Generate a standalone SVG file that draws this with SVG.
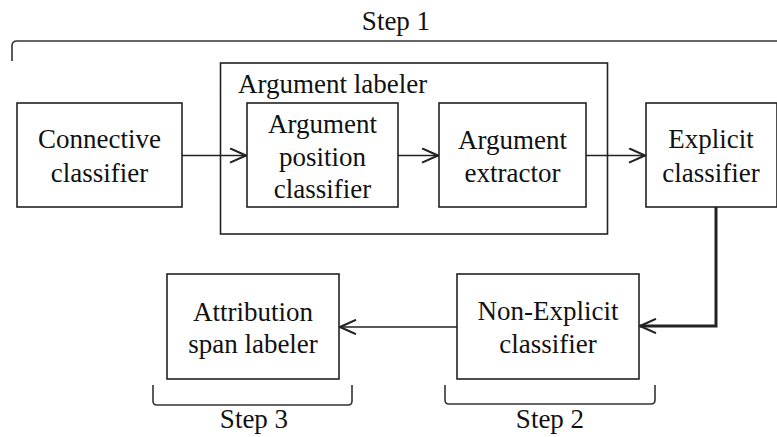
<svg xmlns="http://www.w3.org/2000/svg" width="777" height="437" viewBox="0 0 777 437">
<style>
  .box{fill:#fff;stroke:#222;stroke-width:1.6}
  .t{font-size:27px;fill:#111;text-anchor:middle}
  .br{fill:none;stroke:#333;stroke-width:1.6}
  .c{fill:none;stroke:#222;stroke-width:1.6}
</style>
<defs>
  <marker id="arr" viewBox="0 0 18 16" refX="17" refY="8" markerWidth="18" markerHeight="16" markerUnits="userSpaceOnUse" orient="auto">
    <path d="M1,0.8 L17,8 L1,15.2" fill="none" stroke="#222" stroke-width="2"/>
  </marker>
</defs>
<rect width="777" height="437" fill="#fff"/>
<g font-family="Liberation Serif, DejaVu Serif, Times New Roman, serif">
<g id="step1">
  <path class="br" d="M12,61 V46 Q12,41 17,41 H777"/>
  <text class="t" x="396" y="30">Step 1</text>
</g>

<g id="argument-labeler">
  <rect class="box" x="220.5" y="63" width="387" height="171" fill="none"/>
  <text class="t" x="238" y="93" style="text-anchor:start">Argument labeler</text>
</g>

<g id="connective-classifier">
  <rect class="box" x="17" y="103" width="165" height="104"/>
  <text class="t" x="99.5" y="148">Connective</text>
  <text class="t" x="99.5" y="182">classifier</text>
</g>

<g id="argument-position-classifier">
  <rect class="box" x="247" y="103" width="151" height="104"/>
  <text class="t" x="322.5" y="133">Argument</text>
  <text class="t" x="322.5" y="166">position</text>
  <text class="t" x="322.5" y="198">classifier</text>
</g>

<g id="argument-extractor">
  <rect class="box" x="439" y="103" width="147" height="104"/>
  <text class="t" x="512.5" y="149">Argument</text>
  <text class="t" x="512.5" y="182">extractor</text>
</g>

<g id="explicit-classifier">
  <rect class="box" x="646" y="103" width="131" height="104"/>
  <text class="t" x="711" y="148">Explicit</text>
  <text class="t" x="711" y="182">classifier</text>
</g>

<g id="non-explicit-classifier">
  <rect class="box" x="457" y="274" width="182" height="105"/>
  <text class="t" x="548" y="320">Non-Explicit</text>
  <text class="t" x="548" y="353">classifier</text>
</g>

<g id="attribution-span-labeler">
  <rect class="box" x="167" y="274" width="172" height="105"/>
  <text class="t" x="253" y="321">Attribution</text>
  <text class="t" x="253" y="353">span labeler</text>
</g>

<g id="step2">
  <path class="br" d="M445,385 V400 Q445,404 449,404 H651 Q655,404 655,400 V385"/>
  <text class="t" x="550" y="428">Step 2</text>
</g>

<g id="step3">
  <path class="br" d="M153,385 V401 Q153,405 157,405 H348 Q352,405 352,401 V385"/>
  <text class="t" x="254" y="428">Step 3</text>
</g>
</g>
<g id="connectors">
  <path class="c" d="M182,155.5 H246" marker-end="url(#arr)"/>
  <path class="c" d="M398,155.5 H438" marker-end="url(#arr)"/>
  <path class="c" d="M586,155.5 H645" marker-end="url(#arr)"/>
  <path class="c" d="M716,207 V326 H640" style="stroke-width:3" marker-end="url(#arr)"/>
  <path class="c" d="M457,327 H340" marker-end="url(#arr)"/>
</g>
</svg>
